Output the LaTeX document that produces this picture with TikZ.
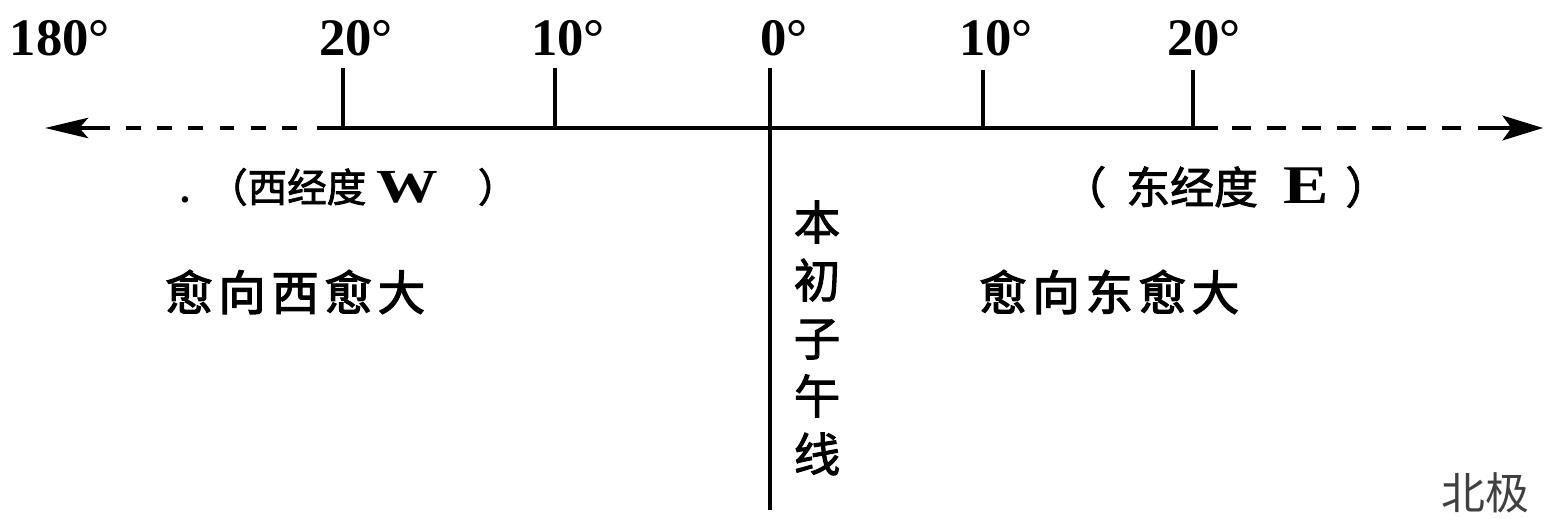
\documentclass[tikz,border=0pt]{standalone}
\usepackage{fontspec}
\usepackage{graphicx}
\setmainfont{Liberation Serif}
\newfontfamily\cjk{Noto Sans CJK SC}
\newfontfamily\cjkb[FakeBold=2]{Noto Sans CJK SC}
\newfontfamily\cjkbs[FakeBold=2.5,LetterSpace=12]{Noto Sans CJK SC}
\usetikzlibrary{arrows.meta}
\begin{document}
\begin{tikzpicture}[x=0.02cm,y=-0.02cm,line width=2.6pt,
  deg/.style={font=\bfseries\fontsize{30}{30}\selectfont,inner sep=0pt},
  axisline/.style={line width=2.6pt},
  dashl/.style={line width=2.6pt,dash pattern=on 8.5pt off 9.3pt},
  dashr/.style={line width=2.6pt,dash pattern=on 10.8pt off 9.1pt},
  lbl/.style={inner sep=0pt,anchor=west,font=\cjkb\fontsize{22.5}{22.5}\selectfont},
  lblr/.style={inner sep=0pt,anchor=west,font=\cjkb\fontsize{25}{25}\selectfont},
  big/.style={inner sep=0pt,anchor=west,font=\cjkbs\fontsize{27}{27}\selectfont},
  vert/.style={inner sep=0pt,align=center,font=\cjkb\fontsize{26.5}{33}\selectfont},
  note/.style={inner sep=0pt,text=black!75,font=\cjk\fontsize{25}{25}\selectfont}]
\useasboundingbox (0,0) rectangle (1547,519);
% axis coordinates
\coordinate (sW) at (317,128);
\coordinate (sE) at (1218,128);
\coordinate (dW1) at (297,128);
\coordinate (dW2) at (125,128);
\coordinate (aW1) at (110,128);
\coordinate (aW2) at (45,128);
\coordinate (dE1) at (1232,128);
\coordinate (dE2) at (1462,128);
\coordinate (aE1) at (1478,128);
\coordinate (aE2) at (1543,128);
% tick coordinates
\coordinate (b20w) at (343,128); \coordinate (t20w) at (343,68);
\coordinate (b10w) at (555,128); \coordinate (t10w) at (555,68);
\coordinate (b0) at (770,128);   \coordinate (t0) at (770,68);
\coordinate (bot0) at (770,510);
\coordinate (b10e) at (983,128); \coordinate (t10e) at (983,70);
\coordinate (b20e) at (1193,128); \coordinate (t20e) at (1193,70);
% lines
\draw[axisline] (sW) -- (sE);
\draw[dashl] (dW1) -- (dW2);
\draw[axisline,-{Stealth[length=24.5pt,width=11.5pt,inset=5pt]}] (aW1) -- (aW2);
\draw[dashr] (dE1) -- (dE2);
\draw[axisline,-{Stealth[length=23pt,width=14pt,inset=5pt]}] (aE1) -- (aE2);
\draw[axisline] (t20w) -- (b20w);
\draw[axisline] (t10w) -- (b10w);
\draw[axisline] (t10e) -- (b10e);
\draw[axisline] (t20e) -- (b20e);
\draw[axisline] (t0) -- (bot0);
% degree labels
\node[deg] (l180) at (60,38) {180°};
\node[deg] (l20w) at (356,38) {20°};
\node[deg] (l10w) at (568,38) {10°};
\node[deg] (l0) at (784,38) {0°};
\node[deg] (l10e) at (996,38) {10°};
\node[deg] (l20e) at (1204,38) {20°};
% text labels
\node[lbl] (wlabel) at (178,187) {{\rmfamily\bfseries .}\hspace{0.36cm}（西经度\hspace{0.2cm}{\rmfamily\bfseries\fontsize{27}{27}\selectfont\scalebox{1.3}[1]{W}}\hspace{0.8cm}）};
\node[lblr] (elabel) at (1060,187) {（\hspace{0.4cm}东经度\hspace{0.52cm}{\rmfamily\bfseries\fontsize{31}{31}\selectfont\scalebox{1.25}[1]{E}}\hspace{0.32cm}）};
\node[big] (wbig) at (163,292) {愈向西愈大};
\node[big] (ebig) at (977,292) {愈向东愈大};
\node[vert] (pm) at (817,338) {本\\初\\子\\午\\线};
\node[note] (np) at (1485,493) {北极};
\end{tikzpicture}
\end{document}
